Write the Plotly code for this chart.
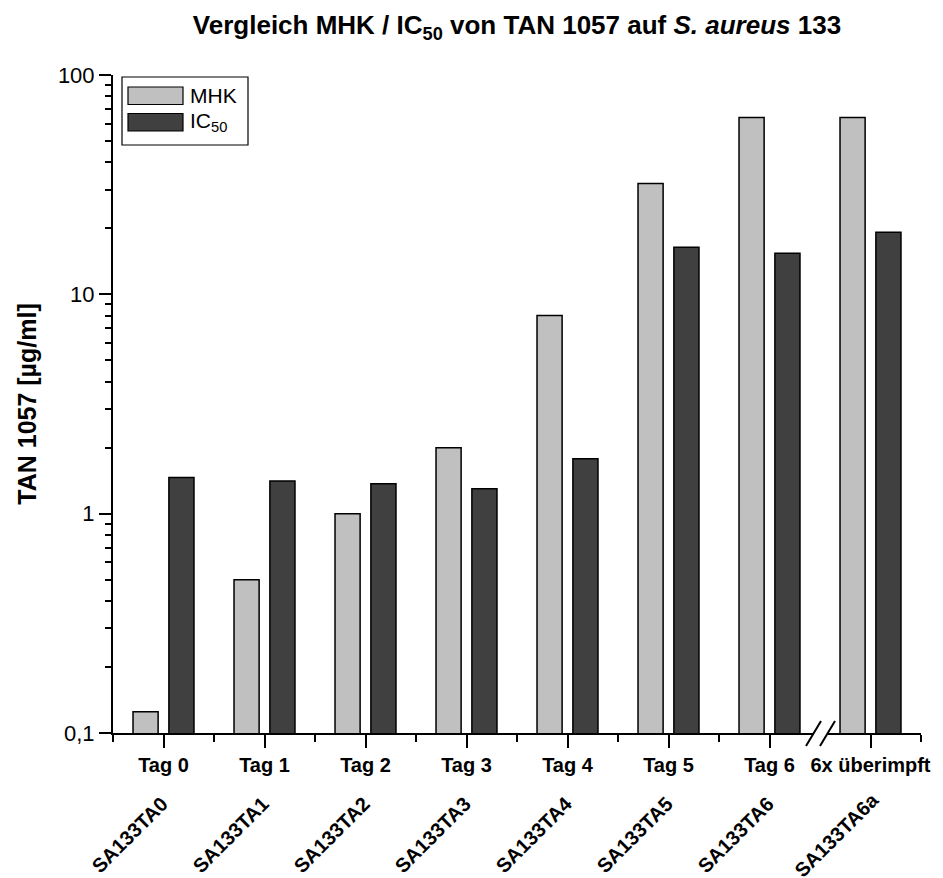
import plotly.graph_objects as go

days = ["Tag 0", "Tag 1", "Tag 2", "Tag 3", "Tag 4", "Tag 5", "Tag 6", "6x überimpft"]
strains = ["SA133TA0", "SA133TA1", "SA133TA2", "SA133TA3", "SA133TA4", "SA133TA5", "SA133TA6", "SA133TA6a"]
mhk = [0.125, 0.5, 1, 2, 8, 32, 64, 64]
ic50 = [1.46, 1.41, 1.37, 1.30, 1.78, 16.4, 15.4, 19.2]
series_names = ["MHK", "IC<sub>50</sub>"]
series_colors = ["#C0C0C0", "#404040"]
y_tickvals = [0.1, 1, 10, 100]
y_ticktext = ["0,1", "1", "10", "100"]

FONT = "Liberation Sans, Arial, sans-serif"

pos = list(range(len(days)))

fig = go.Figure()
for name, vals, col in zip(series_names, [mhk, ic50], series_colors):
    fig.add_trace(go.Bar(x=pos, y=vals, name=name, marker=dict(color=col, line=dict(color="black", width=1.5)),
                         showlegend=False))

# minor ticks at category boundaries, skip the boundary at the axis break
minor_vals = [i - 0.5 for i in range(len(days) + 1) if i != len(days) - 1]

fig.update_layout(
    width=943, height=878,
    margin=dict(l=113, r=20, t=75, b=145),
    plot_bgcolor="white", paper_bgcolor="white",
    barmode="group", bargap=0.29, bargroupgap=0.3,
    title=dict(text="<b>Vergleich MHK / IC<sub>50</sub> von TAN 1057 auf <i>S. aureus</i> 133</b>",
               x=0.5, xref="paper", xanchor="center", y=1 - 25 / 878, yanchor="middle",
               font=dict(family=FONT, size=26, color="black")),
    xaxis=dict(range=[-0.5, len(days) - 0.5], tickvals=pos, ticktext=["<b>%s</b>" % d for d in days],
               ticks="outside", ticklen=13, tickwidth=2, tickcolor="black",
               showline=True, linecolor="black", linewidth=2, showgrid=False, zeroline=False,
               tickfont=dict(family=FONT, size=20, color="black"),
               minor=dict(tickvals=minor_vals, ticks="outside", ticklen=7, tickwidth=2, tickcolor="black", showgrid=False)),
    yaxis=dict(type="log", range=[-1, 2], tickvals=y_tickvals, ticktext=y_ticktext,
               ticks="outside", ticklen=12, tickwidth=2, tickcolor="black",
               showline=True, linecolor="black", linewidth=2, showgrid=False, zeroline=False,
               tickfont=dict(family=FONT, size=22, color="black"),
               title=dict(text="<b>TAN 1057 [µg/ml]</b>", font=dict(family=FONT, size=25, color="black"), standoff=14),
               minor=dict(ticks="outside", ticklen=6, tickwidth=1.5, tickcolor="black", showgrid=False,
                          tickvals=[m * 10 ** e for e in (-1, 0, 1) for m in range(2, 10)])),
)

# rotated strain labels
for i, s in enumerate(strains):
    fig.add_annotation(x=i, xref="x", y=0, yref="paper", yshift=-102, xshift=-34, text="<b>%s</b>" % s,
                       textangle=-45, showarrow=False, xanchor="center", yanchor="middle",
                       font=dict(family=FONT, size=20, color="black"))

# axis break marks between last two categories
brk = len(days) - 1.5
fig.add_shape(type="rect", xref="x", xsizemode="pixel", xanchor=brk, x0=-6, x1=8,
              yref="paper", ysizemode="pixel", yanchor=0, y0=-3, y1=3, fillcolor="white", line=dict(width=0))
for dx in (-14, 0):
    fig.add_shape(type="line", xref="x", xsizemode="pixel", xanchor=brk, x0=dx, x1=dx + 15,
                  yref="paper", ysizemode="pixel", yanchor=0, y0=-13, y1=12, line=dict(color="black", width=2))

# custom legend
fig.add_shape(type="rect", xref="paper", xsizemode="pixel", xanchor=0, x0=9, x1=135,
              yref="paper", ysizemode="pixel", yanchor=1, y0=-2, y1=-70, line=dict(color="black", width=1.2),
              fillcolor="white")
for k, (name, col) in enumerate(zip(series_names, series_colors)):
    top = -12 - 26.5 * k
    fig.add_shape(type="rect", xref="paper", xsizemode="pixel", xanchor=0, x0=15, x1=70,
                  yref="paper", ysizemode="pixel", yanchor=1, y0=top, y1=top - 17.5,
                  fillcolor=col, line=dict(color="black", width=1.2))
    fig.add_annotation(x=0, xref="paper", xshift=75, y=1, yref="paper", yshift=top - 8.5, text=name,
                       showarrow=False, xanchor="left", yanchor="middle",
                       font=dict(family=FONT, size=21, color="black"))

fig.write_html("out.html")
